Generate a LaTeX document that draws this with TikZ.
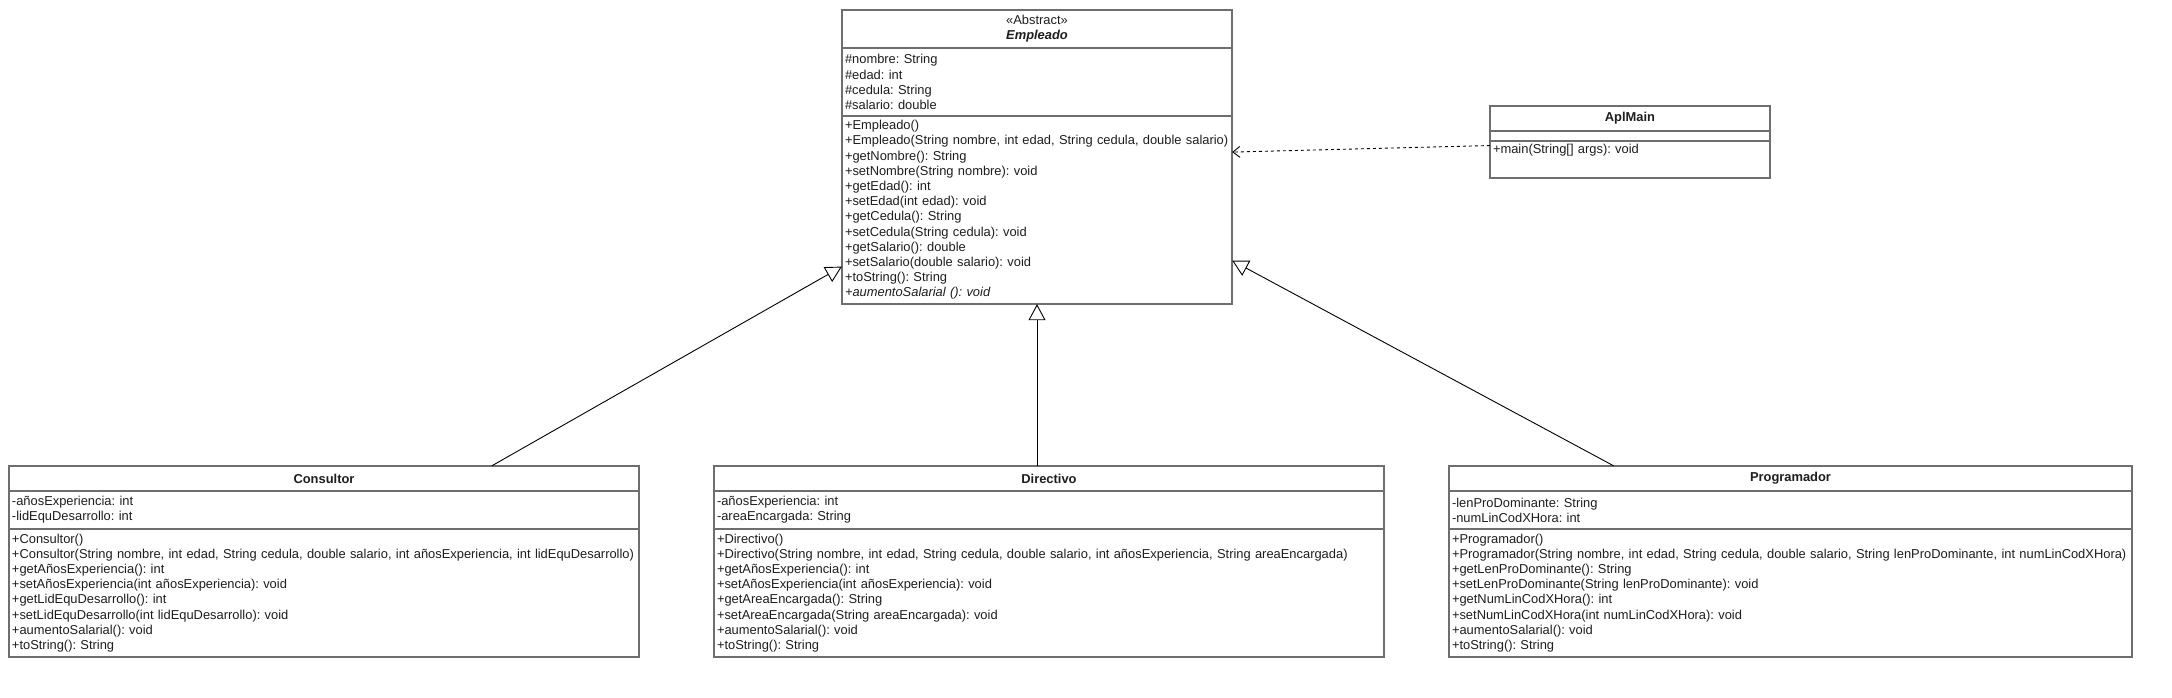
\documentclass[tikz,border=0pt]{standalone}
\usepackage{fontspec}
\setmainfont{Liberation Sans}
\usetikzlibrary{positioning, fit, arrows.meta}
\frenchspacing
\hyphenpenalty=10000
\definecolor{boxgray}{HTML}{6E6E6E}
\definecolor{inkgray}{HTML}{1E1E1E}
\tikzset{
x=1pt, y=-1pt, % pixel-like units, y grows downwards
every node/.style={font=\fontsize{12.9}{15.2}\selectfont, text=inkgray},
part/.style={draw=boxgray, line width=1.5pt, fill=white, outer sep=0pt,
  inner xsep=3pt, inner ysep=0pt, align=left, text width=#1}, % one compartment of a class
title/.style={part=#1, align=center, font=\fontsize{12.9}{15.2}\selectfont\bfseries},
umlclass/.style={fit=#1, inner sep=0pt}, % whole class, used for the connectors
extends/.style={-{Triangle[length=16pt, width=17pt, fill=white]}, line width=0.9pt, black},
uses/.style={-{Straight Barb[length=7pt, width=11pt]}, dashed, line width=0.9pt, black},
}

\begin{document}
\begin{tikzpicture}
\useasboundingbox (0,0) rectangle (2172,698);

% Empleado
\node[title=384pt, minimum height=38pt, anchor=north west] (emp-name) at (842,10)
  {{\mdseries «Abstract»}\\\textit{Empleado}};
\node[part=384pt, minimum height=68pt, below=0pt of emp-name] (emp-attr)
  {\#nombre: String\\\#edad: int\\\#cedula: String\\\#salario: double};
\node[part=384pt, minimum height=188pt, below=0pt of emp-attr] (emp-ops)
  {+Empleado()\\
   +Empleado(String nombre, int edad, String cedula, double salario)\\
   +getNombre(): String\\
   +setNombre(String nombre): void\\
   +getEdad(): int\\
   +setEdad(int edad): void\\
   +getCedula(): String\\
   +setCedula(String cedula): void\\
   +getSalario(): double\\
   +setSalario(double salario): void\\
   +toString(): String\\
   \textit{+aumentoSalarial (): void}};
\node[umlclass={(emp-name)(emp-ops)}] (empleado) {};

% AplMain
\node[title=274pt, minimum height=25pt, anchor=north west] (apl-name) at (1490,106) {AplMain};
\node[part=274pt, minimum height=10pt, below=0pt of apl-name] (apl-attr) {};
\node[part=274pt, minimum height=37pt, text depth=22pt, below=0pt of apl-attr] (apl-ops)
  {+main(String[] args): void};
\node[umlclass={(apl-name)(apl-ops)}] (aplmain) {};

% Consultor
\node[title=624pt, minimum height=25pt, anchor=north west] (con-name) at (9,466) {Consultor};
\node[part=624pt, minimum height=38pt, below=0pt of con-name] (con-attr)
  {-añosExperiencia: int\\-lidEquDesarrollo: int};
\node[part=624pt, minimum height=128pt, below=0pt of con-attr] (con-ops)
  {+Consultor()\\
   +Consultor(String nombre, int edad, String cedula, double salario, int añosExperiencia, int lidEquDesarrollo)\\
   +getAñosExperiencia(): int\\
   +setAñosExperiencia(int añosExperiencia): void\\
   +getLidEquDesarrollo(): int\\
   +setLidEquDesarrollo(int lidEquDesarrollo): void\\
   +aumentoSalarial(): void\\
   +toString(): String};
\node[umlclass={(con-name)(con-ops)}] (consultor) {};

% Directivo
\node[title=664pt, minimum height=25pt, anchor=north west] (dir-name) at (714,466) {Directivo};
\node[part=664pt, minimum height=38pt, below=0pt of dir-name] (dir-attr)
  {-añosExperiencia: int\\-areaEncargada: String};
\node[part=664pt, minimum height=128pt, below=0pt of dir-attr] (dir-ops)
  {+Directivo()\\
   +Directivo(String nombre, int edad, String cedula, double salario, int añosExperiencia, String areaEncargada)\\
   +getAñosExperiencia(): int\\
   +setAñosExperiencia(int añosExperiencia): void\\
   +getAreaEncargada(): String\\
   +setAreaEncargada(String areaEncargada): void\\
   +aumentoSalarial(): void\\
   +toString(): String};
\node[umlclass={(dir-name)(dir-ops)}] (directivo) {};

% Programador
\node[title=677pt, minimum height=25pt, anchor=north west] (pro-name) at (1449,466) {Programador};
\node[part=677pt, minimum height=38pt, below=0pt of pro-name] (pro-attr)
  {-lenProDominante: String\\-numLinCodXHora: int};
\node[part=677pt, minimum height=128pt, below=0pt of pro-attr] (pro-ops)
  {+Programador()\\
   +Programador(String nombre, int edad, String cedula, double salario, String lenProDominante, int numLinCodXHora)\\
   +getLenProDominante(): String\\
   +setLenProDominante(String lenProDominante): void\\
   +getNumLinCodXHora(): int\\
   +setNumLinCodXHora(int numLinCodXHora): void\\
   +aumentoSalarial(): void\\
   +toString(): String};
\node[umlclass={(pro-name)(pro-ops)}] (programador) {};

\draw[extends] (consultor) -- (empleado);
\draw[extends] (directivo.north -| empleado.south) -- (empleado);
\draw[extends] (programador) -- (empleado);
\draw[uses] (aplmain) -- (empleado);
\end{tikzpicture}
\end{document}
